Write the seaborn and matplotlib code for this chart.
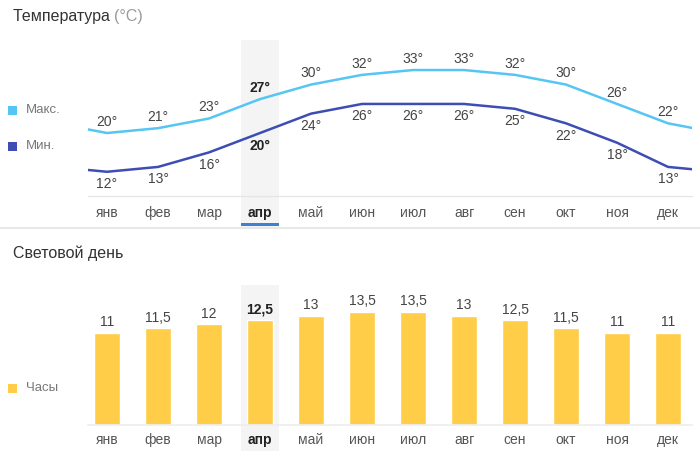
import matplotlib
matplotlib.use("Agg")
import matplotlib.pyplot as plt
from matplotlib.patches import Rectangle
from matplotlib.lines import Line2D
import seaborn as sns
import pandas as pd
import numpy as np

months = ["янв", "фев", "мар", "апр", "май", "июн", "июл", "авг", "сен", "окт", "ноя", "дек"]
t_max = [20, 21, 23, 27, 30, 32, 33, 33, 32, 30, 26, 22]
t_min = [12, 13, 16, 20, 24, 26, 26, 26, 25, 22, 18, 13]
daylight = [11, 11.5, 12, 12.5, 13, 13.5, 13.5, 13, 12.5, 11.5, 11, 11]
daylight_labels = ["11", "11,5", "12", "12,5", "13", "13,5", "13,5", "13", "12,5", "11,5", "11", "11"]
current = 3  # апр

C_MAX = "#55c6f4"
C_MIN = "#3d4db3"
C_BAR = "#ffcd47"
C_BAND = "#f4f4f4"
C_TXT = "#444444"
C_MONTH = "#555555"
C_AXIS = "#e6e6e6"

sns.set_theme(style="white")
plt.rcParams["font.family"] = ["Liberation Sans", "DejaVu Sans"]

W, H = 700, 451
fig = plt.figure(figsize=(7, 4.51), dpi=100)

def fx(px):
    return px / W

def fy(py):
    return 1 - py / H

XL = (-0.373, 11.47)

# ---------------- top temperature panel ----------------
ax1 = fig.add_axes([fx(88), fy(196), fx(692) - fx(88), (196 - 40) / H])
n = len(months)
xs = [-1] + list(range(n)) + [n]
df = pd.DataFrame({
    "x": xs * 2,
    "t": [t_max[-1]] + t_max + [t_max[0]] + [t_min[-1]] + t_min + [t_min[0]],
    "s": ["max"] * (n + 2) + ["min"] * (n + 2),
})
ax1.add_patch(Rectangle((current - 0.365, -0.205), 0.73, 1.205,
                        transform=ax1.get_xaxis_transform(), color=C_BAND,
                        clip_on=False, zorder=0, lw=0))
sns.lineplot(data=df, x="x", y="t", hue="s", palette={"max": C_MAX, "min": C_MIN},
             ax=ax1, legend=False, linewidth=1.8, zorder=3)
ax1.set_xlim(*XL)
ax1.set_ylim(7, 39.2)
for i in range(n):
    bold = i == current
    ax1.annotate(f"{t_max[i]}°", (i, t_max[i]), xytext=(0, 8), textcoords="offset points",
                 ha="center", va="center", fontsize=10,
                 color="#222222" if bold else C_TXT, fontweight="bold" if bold else "normal")
    ax1.annotate(f"{t_min[i]}°", (i, t_min[i]), xytext=(0, -9), textcoords="offset points",
                 ha="center", va="center", fontsize=10,
                 color="#222222" if bold else C_TXT, fontweight="bold" if bold else "normal")
ax1.set_xticks(range(n))
ax1.set_xticklabels(months)
ax1.tick_params(axis="x", length=0, pad=7, labelsize=10, labelcolor=C_MONTH)
ax1.set_yticks([])
ax1.set_xlabel("")
ax1.set_ylabel("")
for s in ["top", "left", "right"]:
    ax1.spines[s].set_visible(False)
ax1.spines["bottom"].set_color(C_AXIS)
ax1.spines["bottom"].set_linewidth(1)
ax1.set_facecolor("none")
lbl = ax1.get_xticklabels()[current]
lbl.set_fontweight("bold")
lbl.set_color("#222222")
# blue underline
ax1.add_patch(Rectangle((current - 0.365, -0.193), 0.73, 0.019,
                        transform=ax1.get_xaxis_transform(), color="#3d7fd1",
                        clip_on=False, zorder=4, lw=0))

# separator
fig.add_artist(Line2D([0, 1], [fy(228), fy(228)], color="#e4e4e4", lw=1.2))

# ---------------- bottom daylight panel ----------------
ax2 = fig.add_axes([fx(88), fy(425), fx(692) - fx(88), (425 - 285) / H])
ax2.add_patch(Rectangle((current - 0.365, -0.186), 0.73, 1.186,
                        transform=ax2.get_xaxis_transform(), color=C_BAND,
                        clip_on=False, zorder=0, lw=0))
dfb = pd.DataFrame({"m": months, "h": daylight})
sns.barplot(data=dfb, x="m", y="h", order=months, color=C_BAR, saturation=1,
            width=0.51, ax=ax2, zorder=2)
ax2.set_xlim(*XL)
ax2.set_ylim(0, 16.67)
for i in range(n):
    bold = i == current
    ax2.annotate(daylight_labels[i], (i, daylight[i]), xytext=(0, 7.5), textcoords="offset points",
                 ha="center", va="center", fontsize=10,
                 color="#222222" if bold else C_TXT, fontweight="bold" if bold else "normal")
ax2.tick_params(axis="x", length=0, pad=6, labelsize=10, labelcolor=C_MONTH)
ax2.set_yticks([])
ax2.set_xlabel("")
ax2.set_ylabel("")
for s in ["top", "left", "right"]:
    ax2.spines[s].set_visible(False)
ax2.spines["bottom"].set_color("#eeeeee")
ax2.set_facecolor("none")
lbl = ax2.get_xticklabels()[current]
lbl.set_fontweight("bold")
lbl.set_color("#222222")

# ---------------- titles and legends ----------------
t = fig.text(fx(13), fy(17), "Температура ", fontsize=11.5, color="#333333", va="center", ha="left")
fig.canvas.draw()
bb = t.get_window_extent()
fig.text(bb.x1 / W, fy(17), "(°C)", fontsize=11.5, color="#9a9a9a", va="center", ha="left")
fig.text(fx(13), fy(253), "Световой день", fontsize=11.5, color="#333333", va="center", ha="left")

def legend_item(py, color, text):
    fig.add_artist(Rectangle((fx(8), fy(py + 4.5)), fx(9), 9 / H, color=color, lw=0))
    fig.text(fx(26), fy(py), text, fontsize=9.5, color="#777777", va="center", ha="left")

legend_item(110, C_MAX, "Макс.")
legend_item(146, C_MIN, "Мин.")
legend_item(388, C_BAR, "Часы")

fig.savefig("out.png", dpi=100)
